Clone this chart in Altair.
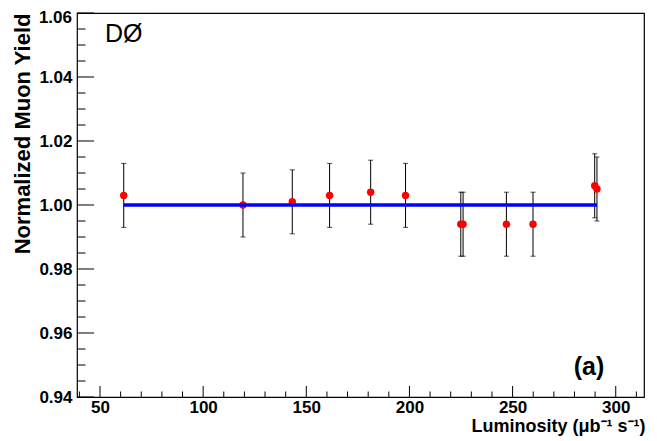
import altair as alt
import pandas as pd

# ---- data ----
lumi = [61.5, 119.3, 143.2, 161.3, 181.2, 198.1, 224.9, 226.0, 247.0, 259.9, 289.8, 290.9]
muon_yield = [1.003, 1.000, 1.001, 1.003, 1.004, 1.003, 0.994, 0.994, 0.994, 0.994, 1.006, 1.005]
yield_err = [0.010, 0.010, 0.010, 0.010, 0.010, 0.010, 0.010, 0.010, 0.010, 0.010, 0.010, 0.010]
fit_x = [61.5, 290.9]
fit_y = [1.000, 1.000]

x_major = [50, 100, 150, 200, 250, 300]
x_minor = [40, 60, 70, 80, 90, 110, 120, 130, 140, 160, 170, 180, 190,
           210, 220, 230, 240, 260, 270, 280, 290, 310]
y_major = [0.94, 0.96, 0.98, 1.00, 1.02, 1.04, 1.06]
y_minor = [0.945, 0.95, 0.955, 0.965, 0.97, 0.975, 0.985, 0.99, 0.995,
           1.005, 1.01, 1.015, 1.025, 1.03, 1.035, 1.045, 1.05, 1.055]

W, H = 567, 384
FONT = "Liberation Sans"

pts = pd.DataFrame({"x": lumi, "y": muon_yield, "e": yield_err})
pts["lo"] = pts["y"] - pts["e"]
pts["hi"] = pts["y"] + pts["e"]
fit = pd.DataFrame({"x": fit_x, "y": fit_y})

xs = alt.Scale(domain=[38.85, 313.7], nice=False, zero=False)
ys = alt.Scale(domain=[0.94, 1.06], nice=False, zero=False)

x_axis = alt.Axis(values=x_major, format="d", ticks=False, domain=False, grid=False,
                  labelFont=FONT, labelFontWeight="bold", labelFontSize=17, labelColor="black",
                  labelPadding=2, labelFlush=False,
                  title="Luminosity (\u03bcb\u207b\u00b9 s\u207b\u00b9)", titleFont=FONT,
                  titleFontWeight="bold", titleFontSize=18, titleColor="black",
                  titleAnchor="end", titleAlign="right", titleBaseline="alphabetic",
                  titleX=W + 1, titleY=34)
# top label (1.06) is drawn separately, nudged down like the reference
y_axis = alt.Axis(values=y_major[:-1], format=".2f", ticks=False, domain=False, grid=False,
                  labelFont=FONT, labelFontWeight="bold", labelFontSize=17, labelColor="black",
                  labelPadding=5, labelFlush=False,
                  title="Normalized Muon Yield", titleFont=FONT, titleFontWeight="bold",
                  titleFontSize=22, titleColor="black", titleAngle=-90,
                  titleAlign="right", titleBaseline="alphabetic", titleX=-48, titleY=0)

errbars = alt.Chart(pts).mark_rule(color="black", strokeWidth=1).encode(
    x=alt.X("x:Q", scale=xs, axis=x_axis),
    y=alt.Y("lo:Q", scale=ys, axis=y_axis),
    y2="hi:Q",
)
cap_lo = alt.Chart(pts).mark_tick(orient="horizontal", size=5, thickness=1, color="black").encode(
    x=alt.X("x:Q", scale=xs), y=alt.Y("lo:Q", scale=ys))
cap_hi = alt.Chart(pts).mark_tick(orient="horizontal", size=5, thickness=1, color="black").encode(
    x=alt.X("x:Q", scale=xs), y=alt.Y("hi:Q", scale=ys))

points = alt.Chart(pts).mark_circle(color="#ff0000", opacity=1, size=55).encode(
    x=alt.X("x:Q", scale=xs), y=alt.Y("y:Q", scale=ys))

fitline = alt.Chart(fit).mark_line(color="#0000ff", strokeWidth=3.5).encode(
    x=alt.X("x:Q", scale=xs), y=alt.Y("y:Q", scale=ys))

# inward ticks (ROOT style)
ymaj = alt.Chart(pd.DataFrame({"v": y_major})).mark_rule(color="black", strokeWidth=1).encode(
    y=alt.Y("v:Q", scale=ys), x=alt.value(0), x2=alt.value(17))
ymin = alt.Chart(pd.DataFrame({"v": y_minor})).mark_rule(color="black", strokeWidth=1).encode(
    y=alt.Y("v:Q", scale=ys), x=alt.value(0), x2=alt.value(8.5))
xmaj = alt.Chart(pd.DataFrame({"v": x_major})).mark_rule(color="black", strokeWidth=1).encode(
    x=alt.X("v:Q", scale=xs), y=alt.value(H), y2=alt.value(H - 11))
xmin = alt.Chart(pd.DataFrame({"v": x_minor})).mark_rule(color="black", strokeWidth=1).encode(
    x=alt.X("v:Q", scale=xs), y=alt.value(H), y2=alt.value(H - 5.5))

top_label = alt.Chart(pd.DataFrame({"v": y_major[-1:]})).mark_text(
    font=FONT, fontSize=17, fontWeight="bold", align="right", baseline="middle",
    color="black", dy=5).encode(
    y=alt.Y("v:Q", scale=ys), x=alt.value(-5), text=alt.Text("v:Q", format=".2f"))

d0 = alt.Chart(pd.DataFrame({"t": ["D\u00d8"]})).mark_text(
    font=FONT, fontSize=25, align="left", baseline="alphabetic", color="black").encode(
    text="t:N", x=alt.value(28), y=alt.value(29))
lab = alt.Chart(pd.DataFrame({"t": ["(a)"]})).mark_text(
    font=FONT, fontSize=25, fontWeight="bold", align="center", baseline="middle", color="black").encode(
    text="t:N", x=alt.value(512), y=alt.value(354))

chart = alt.layer(errbars, cap_lo, cap_hi, points, fitline, ymaj, ymin, xmaj, xmin,
                  top_label, d0, lab).properties(
    width=W, height=H,
    autosize=alt.AutoSizeParams(type="none"),
    padding={"left": 69, "top": 5, "right": 5, "bottom": 40},
    background="white",
).configure_view(stroke="black", strokeWidth=1.2)

chart.save("out.html", embed_options={"renderer": "svg", "actions": False})
